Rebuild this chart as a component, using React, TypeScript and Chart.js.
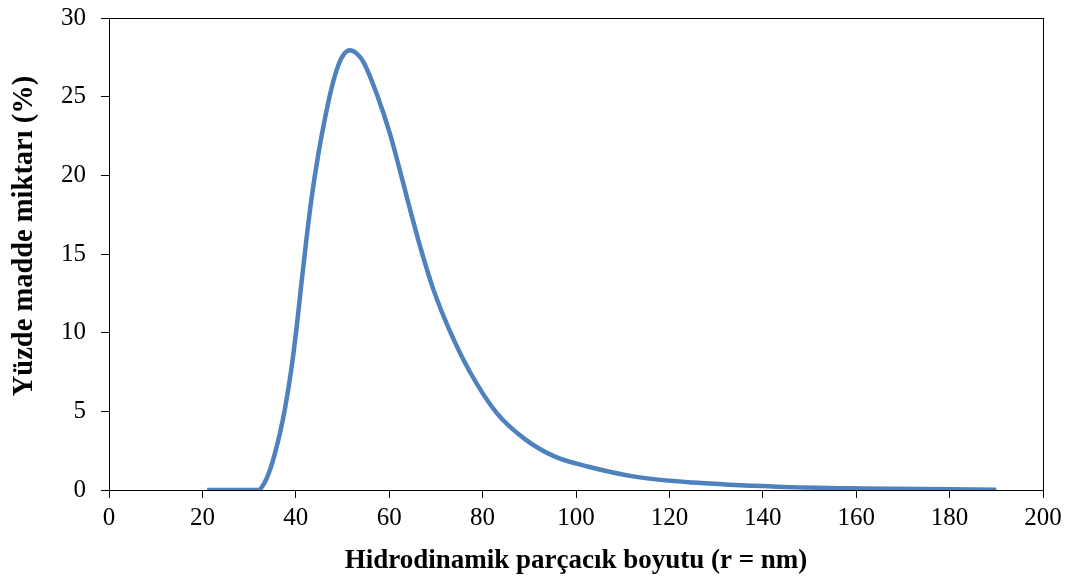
import React, { useEffect, useRef } from "react";
import { Chart, registerables } from "chart.js";

Chart.register(...registerables);

const sizes = [21, 26, 29, 32, 33.2, 34.5, 35.5, 36.6, 37.7, 39.1, 40.2, 41.3, 42.3, 43.4, 44.8, 46.3, 47.7, 49.1, 50.3, 51.6, 53, 54.5, 57.3, 60.2, 62.3, 64.5, 66.6, 69.4, 73, 77.3, 83, 89.2, 95.5, 102.7, 112.6, 125.2, 143, 161, 190];
const percents = [0, 0, 0, 0, 0.4, 1.3, 2.3, 3.6, 5.2, 7.8, 10.4, 13.4, 16.0, 18.6, 21.3, 23.7, 25.6, 27.0, 27.7, 27.95, 27.75, 27.2, 25.2, 22.6, 20.3, 17.8, 15.5, 12.8, 10.1, 7.5, 4.9, 3.2, 2.12, 1.48, 0.85, 0.47, 0.21, 0.1, 0.02];

const xTitle = "Hidrodinamik parçacık boyutu (r = nm)";
const yTitle = "Yüzde madde miktarı (%)";

const FONT = "'Liberation Serif', 'Times New Roman', serif";

export default function App() {
  const ref = useRef<HTMLCanvasElement | null>(null);

  useEffect(() => {
    document.body.style.margin = "0";
    const canvas = ref.current!;
    const framePlugin = {
      id: "frameAndTitles",
      afterDraw(chart: any) {
        const { ctx, chartArea } = chart;
        ctx.save();
        ctx.strokeStyle = "#000";
        ctx.lineWidth = 1;
        ctx.strokeRect(
          Math.round(chartArea.left) + 0.5,
          Math.round(chartArea.top) + 0.5,
          Math.round(chartArea.right - chartArea.left),
          Math.round(chartArea.bottom - chartArea.top)
        );
        ctx.fillStyle = "#000";
        ctx.textAlign = "center";
        ctx.textBaseline = "middle";
        ctx.font = `bold 27px ${FONT}`;
        ctx.fillText(xTitle, (chartArea.left + chartArea.right) / 2, 561);
        ctx.font = `bold 28.5px ${FONT}`;
        ctx.translate(25, 236);
        ctx.rotate(-Math.PI / 2);
        ctx.fillText(yTitle, 0, 0);
        ctx.restore();
      },
    };

    const chart = new Chart(canvas, {
      type: "line",
      data: {
        datasets: [
          {
            data: sizes.map((s, i) => ({ x: s, y: percents[i] })),
            borderColor: "#4f81bd",
            borderWidth: 4.5,
            pointRadius: 0,
            tension: 0.4,
            cubicInterpolationMode: "monotone",
            fill: false,
          },
        ],
      },
      options: {
        animation: false,
        responsive: false,
        layout: { padding: { top: 18, right: 27, left: 0, bottom: 0 } },
        plugins: { legend: { display: false }, tooltip: { enabled: false } },
        scales: {
          x: {
            type: "linear",
            min: 0,
            max: 200,
            ticks: { stepSize: 20, color: "#000", font: { family: FONT, size: 25 }, padding: 5, maxRotation: 0 },
            grid: { drawOnChartArea: false, drawTicks: true, tickLength: 8, color: "#000" },
            border: { color: "#000", width: 1 },
            afterFit(scale: any) {
              scale.height = 89;
              scale.paddingLeft = 0;
              scale.paddingRight = 0;
            },
          },
          y: {
            min: 0,
            max: 30,
            ticks: { stepSize: 5, color: "#000", font: { family: FONT, size: 25 }, padding: 15 },
            grid: { drawOnChartArea: false, drawTicks: true, tickLength: 8, color: "#000" },
            border: { color: "#000", width: 1 },
            afterFit(scale: any) {
              scale.width = 109;
              scale.paddingTop = 0;
              scale.paddingBottom = 0;
            },
          },
        },
      },
      plugins: [framePlugin],
    } as any);
    return () => chart.destroy();
  }, []);

  return (
    <div style={{ width: 1070, height: 579 }}>
      <canvas ref={ref} width={1070} height={579} style={{ display: "block" }} />
    </div>
  );
}
